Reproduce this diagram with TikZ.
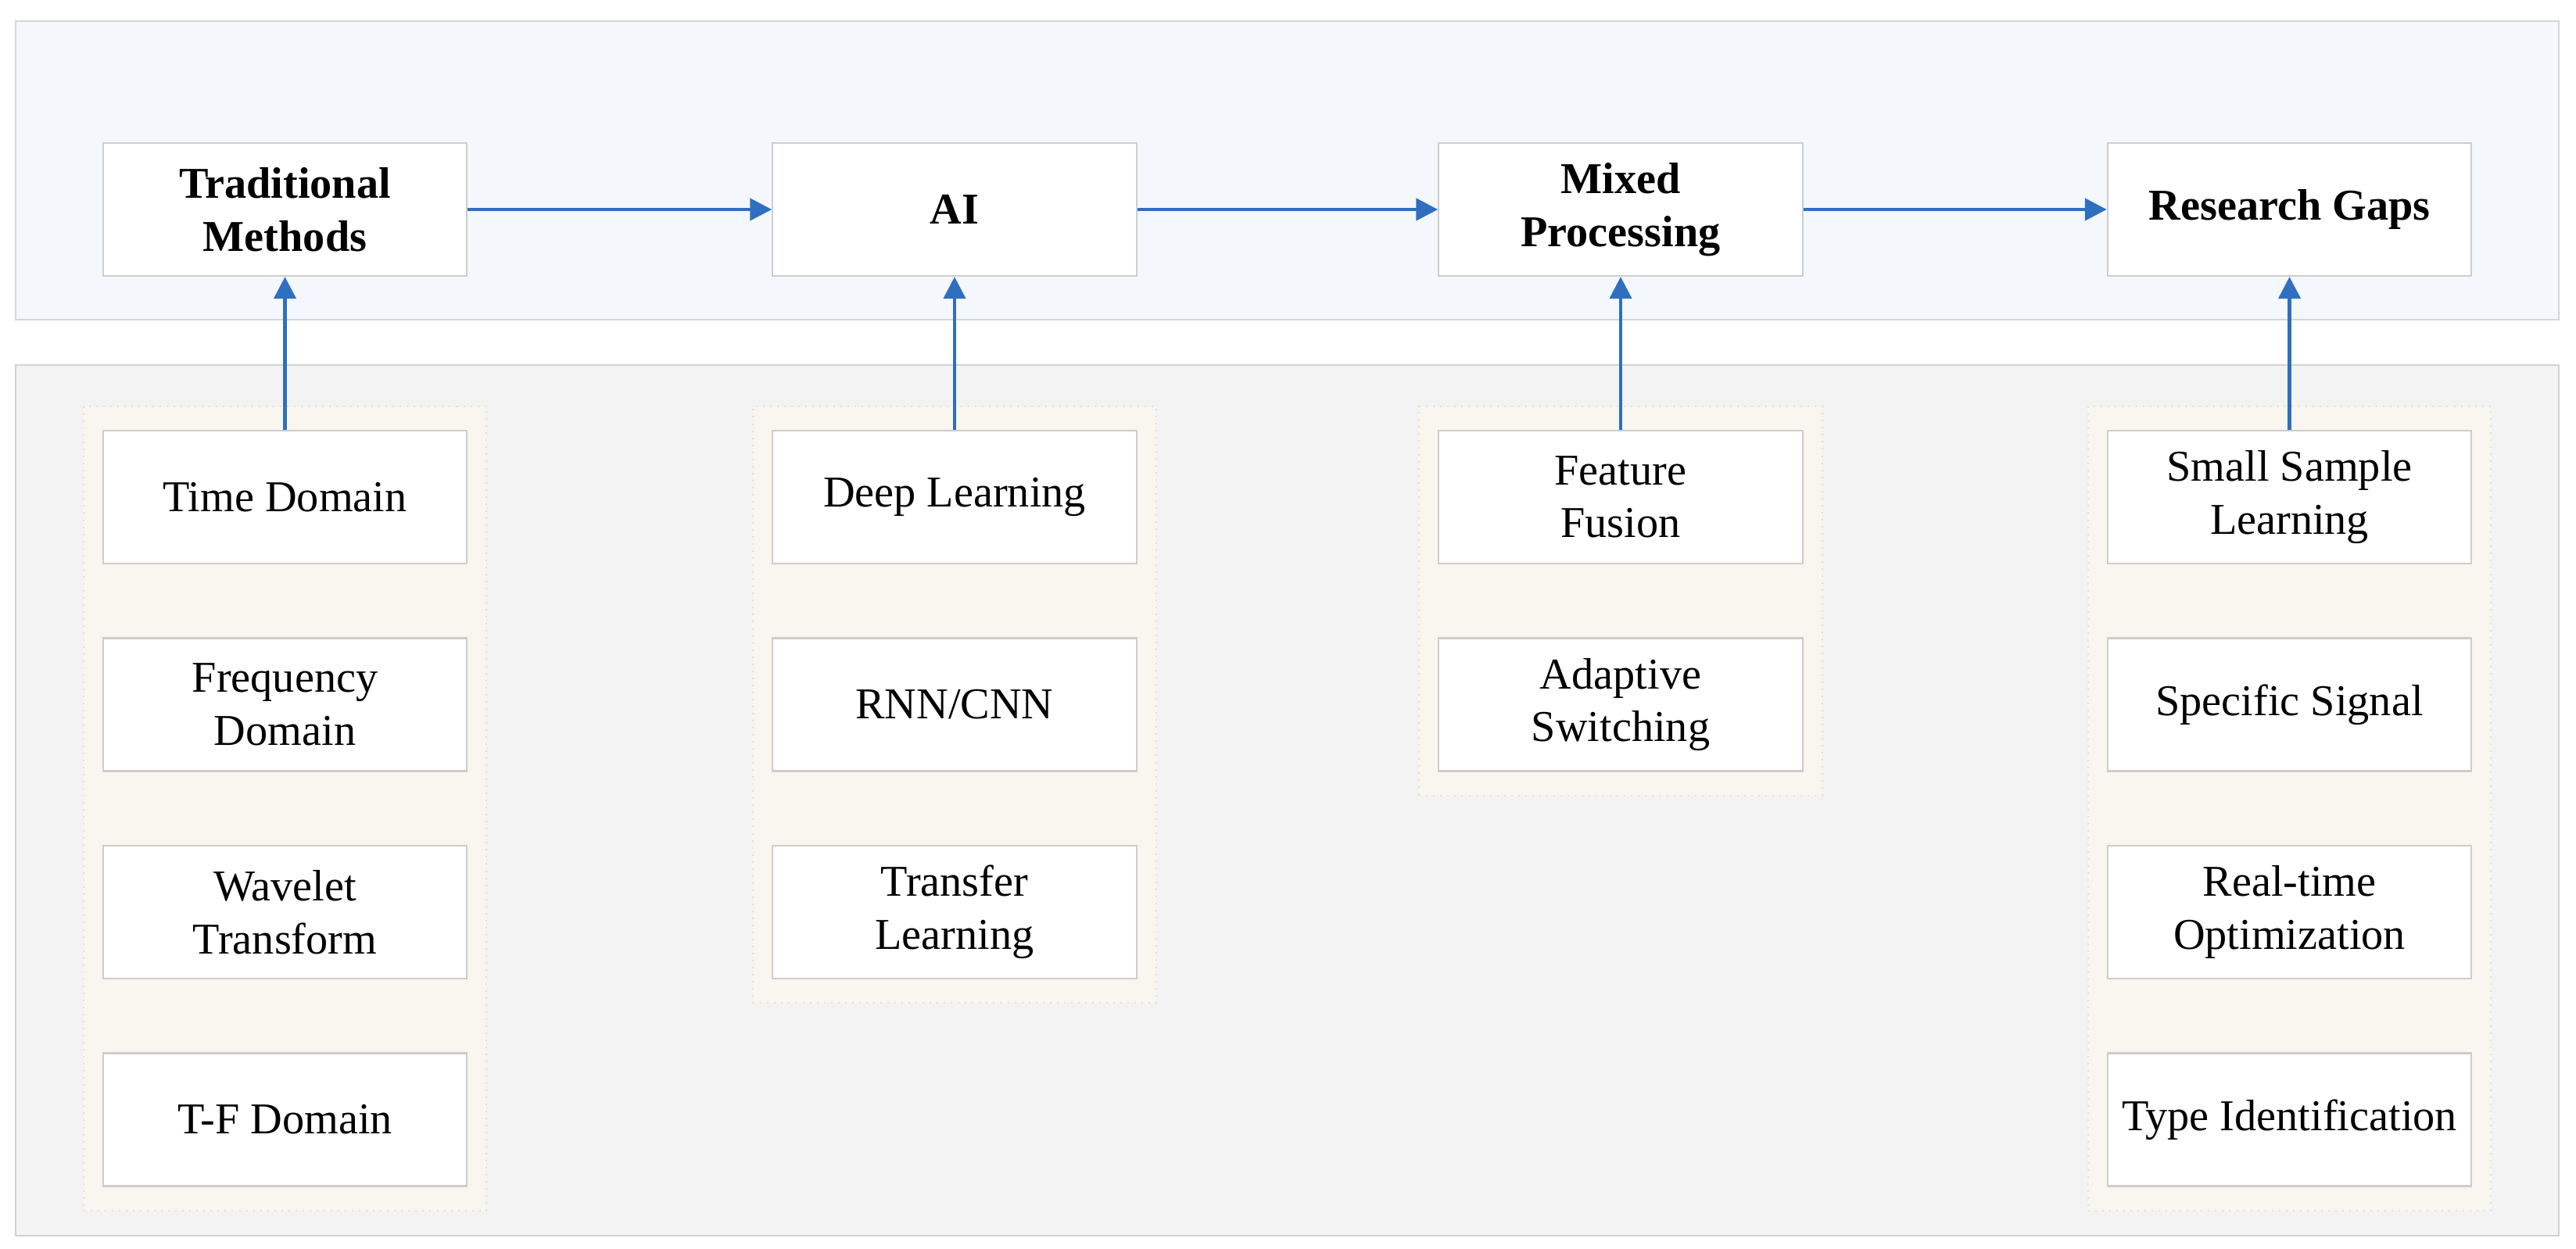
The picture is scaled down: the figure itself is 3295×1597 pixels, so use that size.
\documentclass[tikz,border=0pt]{standalone}
\usepackage{fontspec}
\setmainfont{Liberation Serif}
\usetikzlibrary{arrows.meta,fit,backgrounds}
\definecolor{topfill}{HTML}{F4F7FB}
\definecolor{topdraw}{HTML}{D3D6DA}
\definecolor{botfill}{HTML}{F3F3F3}
\definecolor{botdraw}{HTML}{D2D2D2}
\definecolor{grpfill}{HTML}{F8F6EE}
\definecolor{grpdraw}{HTML}{E3E0D8}
\definecolor{boxdraw}{HTML}{CDCDCD}
\definecolor{arrblue}{HTML}{2E70BF}
\tikzset{
  band/.style={line width=0.025cm},
  topband/.style={band, fill=topfill, draw=topdraw},
  botband/.style={band, fill=botfill, draw=botdraw},
  stagebox/.style={draw=boxdraw, fill=white, line width=0.022cm,
    minimum width=4.65cm, minimum height=1.70cm, inner sep=0pt,
    align=center, font=\fontsize{16}{19.2}\selectfont\bfseries},
  itembox/.style={stagebox, font=\fontsize{16}{19.2}\selectfont},
  grp/.style={draw=grpdraw, fill=grpfill, line width=0.02cm, dotted,
    inner xsep=0.24cm, inner ysep=0.30cm},
  arr/.style={draw=arrblue, line width=0.045cm,
    -{Triangle[length=0.28cm,width=0.28cm]}},
}
\begin{document}
\begin{tikzpicture}[x=0.01cm,y=-0.01cm]
\useasboundingbox (0,0) rectangle (3295,1597);

% top stage boxes
\node[stagebox] (tm) at (364.5,268) {Traditional\\Methods};
\node[stagebox] (ai) at (1221,268) {AI};
\node[stagebox] (mp) at (2073,268) {Mixed\\Processing};
\node[stagebox] (rg) at (2928.5,268) {Research Gaps};

% column 1
\node[itembox] (a1) at (364.5,636) {Time Domain};
\node[itembox] (a2) at (364.5,901.5) {Frequency\\Domain};
\node[itembox] (a3) at (364.5,1167) {Wavelet\\Transform};
\node[itembox] (a4) at (364.5,1432.5) {T-F Domain};
% column 2
\node[itembox] (b1) at (1221,636) {Deep Learning};
\node[itembox] (b2) at (1221,901.5) {RNN/CNN};
\node[itembox] (b3) at (1221,1167) {Transfer\\Learning};
% column 3
\node[itembox] (c1) at (2073,636) {Feature\\Fusion};
\node[itembox] (c2) at (2073,901.5) {Adaptive\\Switching};
% column 4
\node[itembox] (d1) at (2928.5,636) {Small Sample\\Learning};
\node[itembox] (d2) at (2928.5,901.5) {Specific Signal};
\node[itembox] (d3) at (2928.5,1167) {Real-time\\Optimization};
\node[itembox] (d4) at (2928.5,1432.5) {Type Identification};

% bands and groups behind the boxes
\begin{scope}[on background layer]
\draw[topband] (20,27) rectangle (3273,409);
\draw[botband] (20,467) rectangle (3273,1581);
\node[grp, fit=(a1)(a4)] (ga) {};
\node[grp, fit=(b1)(b3)] (gb) {};
\node[grp, fit=(c1)(c2)] (gc) {};
\node[grp, fit=(d1)(d4)] (gd) {};
\end{scope}

% connectors
\draw[arr] (tm) -- (ai);
\draw[arr] (ai) -- (mp);
\draw[arr] (mp) -- (rg);
\draw[arr] (a1.north) -- (tm.south);
\draw[arr] (b1.north) -- (ai.south);
\draw[arr] (c1.north) -- (mp.south);
\draw[arr] (d1.north) -- (rg.south);
\end{tikzpicture}
\end{document}
